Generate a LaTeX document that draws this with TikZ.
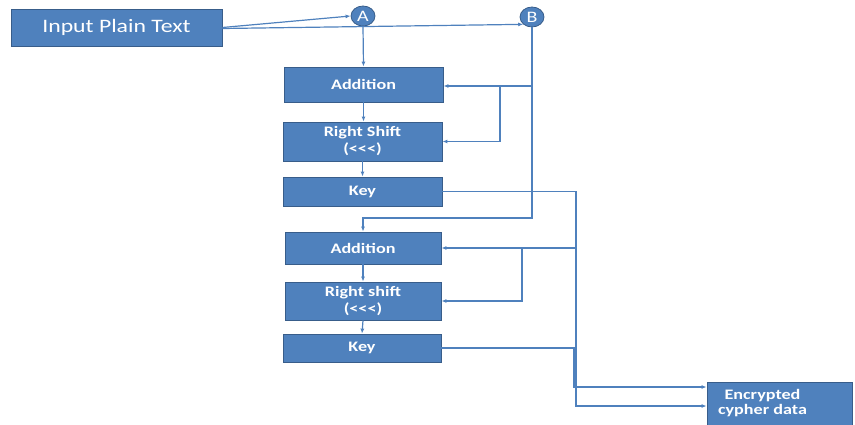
\documentclass[tikz,border=0pt]{standalone}
\usepackage{fontspec}
\setmainfont{Carlito}[FakeStretch=1.25]
\usetikzlibrary{arrows.meta,shapes.geometric}
\definecolor{boxBlue}{HTML}{4F81BD}
\definecolor{edgeBlue}{HTML}{385D8A}

\begin{document}
\begin{tikzpicture}[x=1pt, y=-1pt, >={Latex[length=5pt,width=4pt]}, line width=1.2pt, boxBlue]

  \tikzstyle{P}=[rectangle, fill=boxBlue, draw=edgeBlue, line width=0.8pt, text=white, inner sep=1pt, font=\fontsize{14.5}{17}\selectfont\bfseries, align=center]
  \tikzstyle{J}=[ellipse, fill=boxBlue, draw=edgeBlue, line width=0.8pt, text=white, minimum width=24pt, minimum height=20pt, inner sep=0pt, font=\fontsize{16}{16}\selectfont]
  \tikzstyle{W}=[->, boxBlue, line width=1.2pt]

  \useasboundingbox (0,0) rectangle (855,425);

  \node[P, minimum width=211pt, minimum height=37pt, font=\fontsize{19}{22}\selectfont] at (116.5,27.5) (input) {Input Plain Text};
  \node[J] at (363,16) (A) {A};
  \node[J] at (532,17) (B) {B};

  \node[P, minimum width=159pt, minimum height=35pt] at (363.5,84.5) (add1) {Addition};
  \node[P, minimum width=159pt, minimum height=39pt] at (362.5,141.5) (rs1) {Right Shift\\({<}{<}{<})};
  \node[P, minimum width=159pt, minimum height=29pt] at (362.5,191.5) (key1) {Key};

  \node[P, minimum width=156pt, minimum height=32pt] at (363,248) (add2) {Addition};
  \node[P, minimum width=156pt, minimum height=38pt] at (363,301) (rs2) {Right shift\\({<}{<}{<})};
  \node[P, minimum width=158pt, minimum height=28pt] at (362,348) (key2) {Key};

  \node[P, minimum width=145pt, minimum height=43pt, font=\fontsize{14.5}{15}\selectfont\bfseries] at (779.5,403.5) (enc) {\begin{tabular}{@{}c@{}}Encrypted\\cypher data\end{tabular}\hspace*{34pt}};

  \coordinate (bTurn) at (532,218);
  \coordinate (bTap) at (532,86);
  \coordinate (bFork) at (500,86);
  \coordinate (kTap) at (576,248);
  \coordinate (kFork) at (522,248);
  \coordinate (encLow) at (576,406);
  \coordinate (encHigh) at (574,387);

  \draw [W] (input.east) -- (A.west);
  \draw [W] ([yshift=-1pt]input.east) -- (B.south west);

  \draw [W] (A.south) -- (add1.north);
  \draw [W] (add1.south) -- (add1.south |- rs1.north);
  \draw [W] (rs1.south) -- (key1.north);
  \draw [W] (add2.south) -- (rs2.north);
  \draw [W] (rs2.south) -- (key2.north);

  \draw [W] (B.south) -- (bTurn) -| (add2.north);
  \draw [W] (bTap) -- (bTap -| add1.east);
  \draw [W] (bFork) |- (rs1.east);

  \draw [W] (key1.east) -| (encLow) -- (encLow -| enc.west);
  \draw [W] (kTap) -- (kTap -| add2.east);
  \draw [W] (kFork) |- (rs2.east);
  \draw [W] (key2.east) -| (encHigh) -- (encHigh -| enc.west);

\end{tikzpicture}
\end{document}
